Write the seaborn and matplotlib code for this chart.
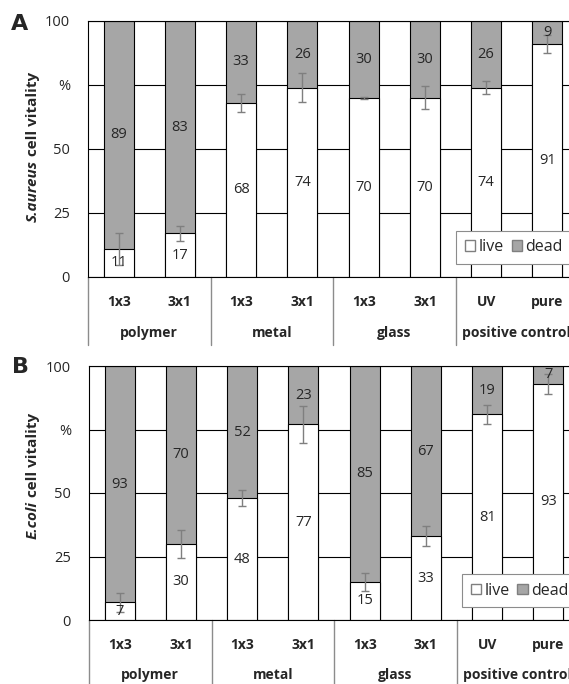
import matplotlib
matplotlib.use('Agg')
import matplotlib.pyplot as plt
import matplotlib.transforms as mtransforms
from matplotlib.patches import Patch
import pandas as pd
import seaborn as sns

# 1. Setup
sns.set_style('white')
plt.rcParams['font.family'] = ['Open Sans', 'DejaVu Sans']

# Data
conditions = ['polymer 1x3', 'polymer 3x1', 'metal 1x3', 'metal 3x1',
              'glass 1x3', 'glass 3x1', 'control UV', 'control pure']
sub_labels = ['1x3', '3x1', '1x3', '3x1', '1x3', '3x1', 'UV', 'pure']
groups = ['polymer', 'metal', 'glass', 'positive control']

live_a = [11, 17, 68, 74, 70, 70, 74, 91]
dead_a = [89, 83, 33, 26, 30, 30, 26, 9]
err_a = [6.3, 2.9, 3.6, 5.7, 0.3, 4.5, 2.6, 3.6]

live_b = [7, 30, 48, 77, 15, 33, 81, 93]
dead_b = [93, 70, 52, 23, 85, 67, 19, 7]
err_b = [3.8, 5.6, 3.1, 7.3, 3.7, 4.0, 3.8, 3.9]

GRAY = '#A6A6A6'
LINE_GRAY = '#8C8C8C'

fig = plt.figure(figsize=(5.69, 6.84), dpi=100)
W, H = 569, 684


def px_axes(left, top, right, bottom):
    return fig.add_axes([left / W, 1 - bottom / H, (right - left) / W, (bottom - top) / H])


def draw_panel(ax, live, dead, err, sep_depth, legend_x):
    df = pd.DataFrame({'cond': conditions, 'live': live,
                       'total': [l + d for l, d in zip(live, dead)]})
    # dead on top of live -> draw full stack in gray, then live in white
    sns.barplot(data=df, x='cond', y='total', order=conditions, color=GRAY,
                saturation=1, width=0.49, edgecolor='black', linewidth=0.8,
                errorbar=None, ax=ax)
    sns.barplot(data=df, x='cond', y='live', order=conditions, color='white',
                saturation=1, width=0.49, edgecolor='black', linewidth=0.8,
                errorbar=None, ax=ax)
    ax.errorbar(range(len(conditions)), live, yerr=err, fmt='none',
                ecolor='#7F7F7F', elinewidth=1, capsize=3, capthick=1, zorder=3)

    # value labels
    for i, (l, d) in enumerate(zip(live, dead)):
        ax.text(i, l / 2, str(l), ha='center', va='center', fontsize=10.5, zorder=4)
        ax.text(i, (l + 100) / 2, str(d), ha='center', va='center', fontsize=10.5, zorder=4)

    ax.set_xlim(-0.5, len(conditions) - 0.5)
    ax.set_ylim(0, 100)
    ax.set_yticks([0, 25, 50, 75, 100])
    ax.set_yticklabels(['0', '25', '50', '%', '100'])
    ax.tick_params(axis='y', length=0, pad=13, labelsize=10.5)
    ax.set_xticks([])
    ax.set_xlabel('')
    ax.set_ylabel('')
    ax.yaxis.grid(True, color='black', linewidth=0.8)
    ax.set_axisbelow(True)
    for s in ax.spines.values():
        s.set_visible(True)
        s.set_color('black')
        s.set_linewidth(0.8)

    # two-level category axis
    trans = ax.get_xaxis_transform()
    for i, lab in enumerate(sub_labels):
        ax.text(i, -0.098, lab, transform=trans, ha='center', va='center',
                fontsize=10, fontweight='bold')
    for g, name in enumerate(groups):
        ax.text(2 * g + 0.5, -0.218, name, transform=trans, ha='center',
                va='center', fontsize=10, fontweight='bold')
    for xs in [-0.5, 1.5, 3.5, 5.5, 7.5]:
        ax.plot([xs, xs], [0, -sep_depth], transform=trans, color=LINE_GRAY,
                linewidth=1, clip_on=False)

    handles = [Patch(facecolor='white', edgecolor='#7F7F7F', label='live'),
               Patch(facecolor=GRAY, edgecolor='#7F7F7F', label='dead')]
    leg = ax.legend(handles=handles, loc='lower left', bbox_to_anchor=(legend_x, 0.05),
                    ncol=2, fontsize=11.5, frameon=True, fancybox=False,
                    framealpha=1, edgecolor='#8C8C8C', handlelength=0.65,
                    handleheight=0.65, handletextpad=0.2, columnspacing=0.5,
                    borderpad=0.55, borderaxespad=0)
    leg.get_frame().set_linewidth(0.8)
    leg.set_zorder(5)


def two_part_ylabel(x_px, yc_px, italic_part, plain_part):
    renderer = fig.canvas.get_renderer()
    tr = mtransforms.IdentityTransform()
    kw = dict(rotation=90, rotation_mode='anchor', ha='left', va='center',
              fontsize=11, fontweight='bold', transform=tr)
    t1 = fig.text(0, 0, italic_part, style='italic', **kw)
    t2 = fig.text(0, 0, plain_part, **kw)
    h1 = t1.get_window_extent(renderer).height
    h2 = t2.get_window_extent(renderer).height
    y0 = (H - yc_px) - (h1 + h2) / 2
    t1.set_position((x_px, y0))
    t2.set_position((x_px, y0 + h1))


# 2. Panels
ax_a = px_axes(88, 21, 578, 277)
draw_panel(ax_a, live_a, dead_a, err_a, sep_depth=0.265, legend_x=0.751)

ax_b = px_axes(89, 366, 579, 620)
draw_panel(ax_b, live_b, dead_b, err_b, sep_depth=0.3, legend_x=0.761)

fig.text(20 / W, 1 - 24 / H, 'A', ha='center', va='center', fontsize=16,
         fontweight='bold', family=['DejaVu Sans'])
fig.text(20 / W, 1 - 367 / H, 'B', ha='center', va='center', fontsize=16,
         fontweight='bold', family=['DejaVu Sans'])

two_part_ylabel(33, 147, 'S.aureus', ' cell vitality')
two_part_ylabel(33, 476, 'E.coli', ' cell vitality')

fig.savefig('out.png', dpi=100)
